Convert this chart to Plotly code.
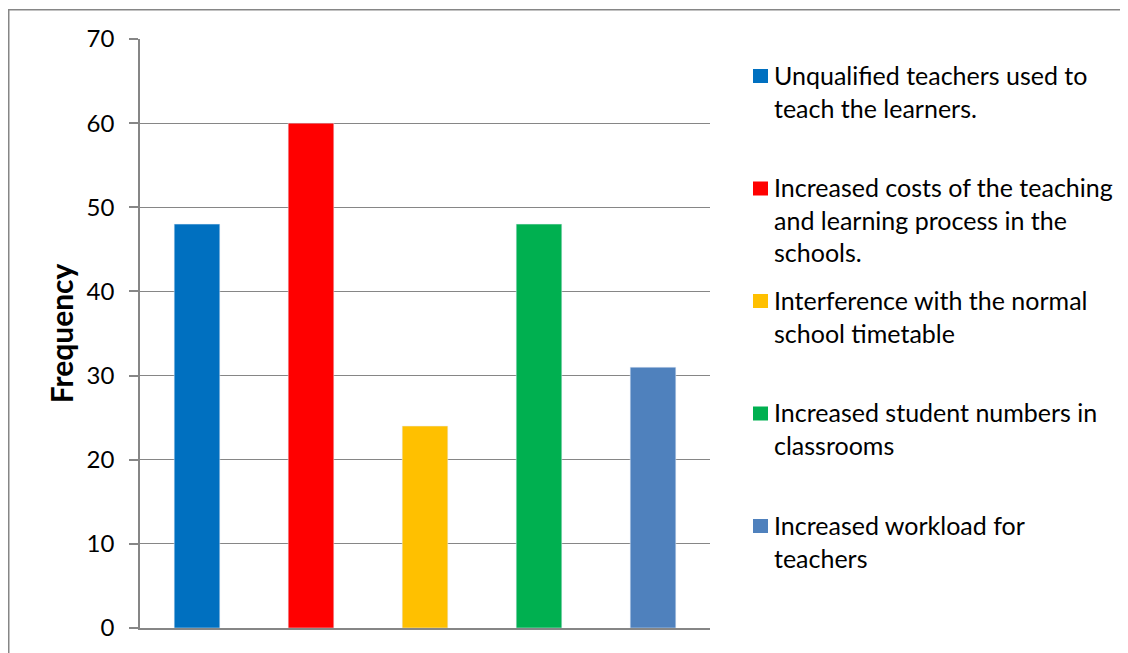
import plotly.graph_objects as go

# data
categories = [
    'Unqualified teachers used to<br>teach the learners.',
    'Increased costs of the teaching<br>and learning process in the<br>schools.',
    'Interference with the normal<br>school timetable',
    'Increased student numbers in<br>classrooms',
    'Increased workload for<br>teachers',
]
frequency = [48, 60, 24, 48, 31]
bar_colors = ['#0070C0', '#FF0000', '#FFC000', '#00B050', '#4F81BD']

# the page body adds an 8px margin, so the figure is 8px smaller than the window
W, H = 1120, 645
L, R, T, B = 132, 702, 31, 620


def px_x(x):
    return (x - L) / (R - L)


def px_y(y):
    return (B - y) / (B - T)


fig = go.Figure()

for i, cat in enumerate(categories):
    fig.add_trace(go.Bar(
        x=[i],
        y=[frequency[i]],
        name=cat,
        width=0.4,
        marker_color=bar_colors[i],
        showlegend=False,
        hovertemplate='%{y}<extra></extra>'
    ))

# hand-made legend so the entries sit at even spacing like the original
legend_centers = [68, 180.5, 293, 405.5, 518]
for i, cat in enumerate(categories):
    yc = legend_centers[i]
    fig.add_shape(type='rect', xref='paper', yref='paper',
                  x0=px_x(745), x1=px_x(760), y0=px_y(yc - 7), y1=px_y(yc + 7),
                  fillcolor=bar_colors[i], line_width=0)
    fig.add_annotation(x=px_x(764), y=px_y(yc - 18.5), xref='paper', yref='paper',
                       xanchor='left', yanchor='top', align='left',
                       text=cat, showarrow=False,
                       font=dict(family='Lato', size=25, color='#000'))

# outer chart border
fig.add_shape(type='rect', xref='paper', yref='paper',
              x0=px_x(0.75), x1=px_x(1135), y0=px_y(1.8), y1=px_y(665),
              line=dict(color='#868686', width=1.5), layer='below')

fig.update_layout(
    width=W, height=H,
    barmode='overlay',
    plot_bgcolor='#fff',
    paper_bgcolor='#fff',
    margin=dict(l=L, r=W - R, t=T, b=H - B),
    xaxis=dict(range=[-0.5, 4.5], showticklabels=False, showgrid=False,
               showline=True, linecolor='#868686', linewidth=1.5,
               zeroline=False, ticks=''),
    yaxis=dict(range=[0, 70], dtick=10, showgrid=True, gridcolor='#868686',
               gridwidth=1, showline=True, linecolor='#868686', linewidth=1.5,
               ticks='outside', ticklen=9, tickcolor='#868686', tickwidth=1.5,
               ticklabelstandoff=10, zeroline=False,
               tickfont=dict(family='Lato', size=24, color='#000'),
               title=dict(text='<b>Frequency</b>', standoff=4,
                          font=dict(family='Lato', size=30, color='#000'))),
    showlegend=False,
)

fig.write_html('out.html')
